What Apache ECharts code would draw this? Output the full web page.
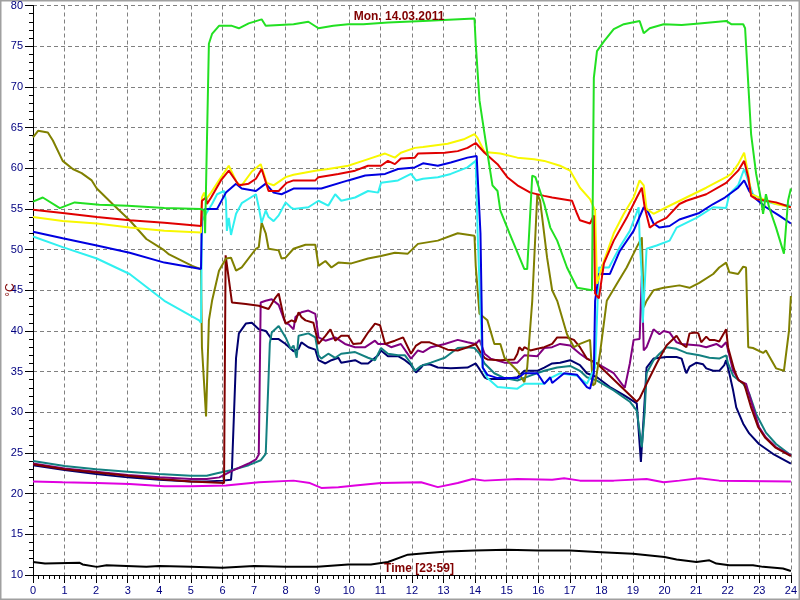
<!DOCTYPE html>
<html>
<head>
<meta charset="utf-8">
<script src="https://cdn.jsdelivr.net/npm/echarts@6/dist/echarts.min.js"></script>
<style>html,body{margin:0;padding:0;background:#fff}#c{width:800px;height:600px}</style>
</head>
<body>
<div id="c"></div>
<script>
// ---- data: [hour, °C] ----
const hours = [0,1,2,3,4,5,6,7,8,9,10,11,12,13,14,15,16,17,18,19,20,21,22,23,24];
const yTicks = [10,15,20,25,30,35,40,45,50,55,60,65,70,75,80];

const green = [[0,55.9],[0.31,56.4],[0.85,55.1],[1.32,55.8],[2.1,55.5],[3,55.4],[4.16,55.1],[5.32,55.0],[5.42,54.8],[5.45,52],[5.5,52.2],[5.57,75.3],[5.67,76.5],[5.89,77.5],[6.3,77.5],[6.52,77.2],[6.83,77.8],[7.24,78.3],[7.37,77.5],[8.25,77.7],[8.72,78],[9.04,77.2],[9.51,77.5],[9.98,77.7],[10.46,77.7],[11.24,77.9],[12.35,78.1],[13.98,78.4],[14.02,75.3],[14.14,68.3],[14.3,64.2],[14.46,60.1],[14.55,57.9],[14.71,57.2],[14.8,54.8],[15.09,52],[15.56,47.6],[15.65,47.6],[15.81,59.1],[15.91,58.9],[16.19,55.6],[16.38,52.7],[16.6,51.1],[16.91,47.8],[17.23,45.3],[17.7,45],[17.76,71.1],[17.86,74.4],[18.08,75.6],[18.39,77.1],[18.71,77.7],[19.21,78.1],[19.34,76.6],[19.53,77.2],[19.97,77.7],[20.54,77.6],[21.1,77.8],[21.95,78.1],[22.11,77.7],[22.49,77.7],[22.55,77.2],[22.65,70.4],[22.74,64.2],[22.9,59.3],[23.06,56],[23.12,54.4],[23.21,56.8],[23.31,55.2],[23.53,52.7],[23.78,49.5],[23.91,56],[24,57.5]];

const red = [[0,54.9],[0.94,54.5],[2.02,54.0],[3.06,53.6],[4.16,53.3],[5.32,52.9],[5.35,56],[5.48,56.4],[5.51,55.6],[5.64,56.4],[5.95,58.5],[6.2,59.7],[6.52,57.9],[6.83,58.1],[7.06,58.7],[7.24,59.9],[7.46,57.2],[7.78,57.2],[8.03,58.2],[8.25,58.5],[8.94,58.5],[9.04,58.9],[9.67,59.3],[10.2,59.7],[10.61,60.3],[11.02,60.3],[11.24,60.9],[11.46,60.5],[11.65,61.2],[12.09,61.3],[12.19,61.8],[13.04,61.9],[13.45,62.1],[13.76,62.5],[14.02,63.1],[14.3,61.9],[14.71,60.5],[15.02,58.9],[15.34,57.9],[15.75,57.0],[16.19,56.6],[16.44,56.4],[17.07,56],[17.23,54.4],[17.32,53.6],[17.64,53.2],[17.76,54.2],[17.8,44.6],[17.92,44.0],[18.08,48.3],[18.39,51.1],[18.8,53.9],[19.12,56.4],[19.28,57.6],[19.37,55.2],[19.53,52.7],[19.75,53.3],[20.06,53.9],[20.47,55.6],[20.69,56],[21.32,56.8],[21.95,58.2],[22.33,59.7],[22.52,60.9],[22.65,58.9],[22.74,56.6],[22.9,56.2],[23.21,56],[23.53,55.8],[24,55.2]];

const yellow = [[0,54.0],[0.94,53.5],[2.02,53.2],[3.06,52.7],[4.16,52.3],[5.32,52.1],[5.35,56.4],[5.42,57],[5.48,56.2],[5.64,57],[5.89,58.5],[6.2,60.3],[6.46,58.2],[6.61,57.9],[6.93,59.6],[7.21,60.5],[7.4,58.2],[7.62,57.9],[8.0,58.9],[8.25,59.2],[8.94,59.7],[9.35,59.9],[9.98,60.3],[10.52,61],[11.15,61.8],[11.46,61.3],[11.65,61.9],[12.09,62.5],[12.35,62.6],[13.13,63.0],[13.67,63.6],[13.98,64.2],[14.08,63.7],[14.3,62.0],[14.8,61.8],[15.34,61.3],[15.87,61.1],[16.19,60.9],[16.69,60.3],[17.01,59.7],[17.32,57.6],[17.64,56.2],[17.8,54.8],[17.86,45.8],[18.08,48.6],[18.39,52],[18.71,54.4],[19.02,56.4],[19.21,58.5],[19.34,57.9],[19.43,55],[19.65,54.4],[20.06,55.2],[20.69,56.4],[21.32,57.6],[21.95,58.9],[22.11,59.3],[22.33,60.5],[22.52,61.9],[22.65,59.3],[22.74,56.8],[23.12,56.2],[23.53,55.6],[24,55.2]];

const blue = [[0,52.2],[0.94,51.4],[2.02,50.5],[3.06,49.6],[4.16,48.4],[5.32,47.6],[5.35,54.8],[5.48,55],[5.83,55],[6.11,57],[6.43,58.1],[6.61,57.5],[7.06,57.2],[7.37,58.1],[7.62,57],[7.87,56.8],[8.25,57.5],[9.13,57.5],[9.98,58.5],[10.52,59.1],[11.15,59.3],[11.56,59.9],[12.09,60.1],[12.35,60.6],[12.82,60.3],[13.23,60.7],[13.76,61.3],[14.05,61.5],[14.17,52],[14.24,35.5],[14.39,34.6],[14.71,34.2],[15.34,34.2],[15.56,34.8],[15.97,34.8],[16.19,33.5],[16.38,34.3],[16.44,33.6],[16.82,34.8],[17.23,34.6],[17.54,33.1],[17.64,32.9],[17.76,34.8],[17.8,43.7],[17.92,47],[18.27,47],[18.58,49.8],[19.02,52.3],[19.34,55.2],[19.43,55],[19.65,53.2],[19.84,52.7],[20.16,52.9],[20.47,53.7],[21.1,54.5],[21.54,55.6],[21.91,56.4],[22.33,57.6],[22.52,58.5],[22.68,57.2],[22.9,56.2],[23.21,55.2],[23.62,54.2],[24,53.2]];

const cyan = [[0,51.6],[0.94,50.3],[2.02,48.9],[3.06,47.0],[4.16,43.7],[5.26,41.3],[5.32,41.0],[5.35,53.5],[5.48,54.4],[5.67,55.6],[5.83,56.8],[6.05,57.2],[6.11,56],[6.14,52.3],[6.2,53.9],[6.27,51.8],[6.3,52.3],[6.43,54.4],[6.61,55.7],[7.06,56.8],[7.15,55.2],[7.24,53.3],[7.37,54.8],[7.46,54],[7.62,53.5],[7.78,54.2],[8.0,55.8],[8.16,55.2],[8.25,55],[8.72,55.2],[9.04,56],[9.35,55.4],[9.57,56.8],[9.76,56],[10.2,56.4],[10.61,57.2],[10.93,57],[11.02,58.2],[11.56,58.5],[11.97,59.3],[12.13,58.5],[12.35,58.7],[12.82,58.9],[13.23,59.3],[13.76,60.1],[14.02,60.9],[14.08,52],[14.24,35.5],[14.39,34.2],[14.71,33.1],[15.34,32.9],[15.56,33.5],[16.19,33.5],[16.38,34.2],[16.69,34.8],[17.23,34.5],[17.54,33.5],[17.8,35.5],[17.92,47.8],[18.24,47.8],[18.58,50.3],[18.9,52.3],[19.18,55.2],[19.21,51.5],[19.28,46.6],[19.31,41.0],[19.43,50.1],[19.75,50.5],[20.16,51.1],[20.38,52.7],[21.01,53.9],[21.54,55.2],[21.95,55.1],[22.05,56.8],[22.33,57.9],[22.52,59.9],[22.68,58.1],[22.8,56.8],[23.12,56],[23.53,55.6],[24,55.4]];

const olive = [[0,63.8],[0.16,64.6],[0.47,64.4],[0.63,63.4],[0.94,60.9],[1.26,59.9],[1.54,59.4],[1.86,58.5],[2.02,57.5],[2.52,55.6],[3.06,53.6],[3.59,51.3],[4.0,50.3],[4.16,49.9],[4.31,49.4],[5.04,48.0],[5.32,47.6],[5.35,38],[5.48,29.5],[5.57,41.3],[5.67,43.7],[5.89,47.4],[6.11,48.9],[6.27,49],[6.43,47.4],[6.61,47.8],[7.06,50.1],[7.15,50.3],[7.24,53.3],[7.37,52],[7.46,50.1],[7.78,49.9],[7.87,48.9],[8.0,49],[8.25,50.1],[8.31,50.3],[8.63,50.6],[8.94,50.6],[9.04,48.0],[9.26,48.6],[9.45,47.8],[9.67,48.4],[10.08,48.3],[10.61,48.9],[11.02,49.2],[11.46,49.6],[11.87,49.5],[12.19,50.7],[12.82,51.1],[13.45,52],[13.98,51.7],[14.02,48],[14.14,42.1],[14.39,41.3],[14.61,38.4],[14.8,38.4],[14.93,36.7],[15.34,35.1],[15.56,33.7],[15.65,35.5],[15.81,43.7],[15.97,56.8],[16.06,56],[16.28,49],[16.44,45],[16.6,43.7],[16.91,39.6],[17.13,38],[17.32,38.4],[17.64,38.9],[17.73,33.3],[17.8,33.5],[17.95,37.1],[18.17,43.7],[18.49,45.8],[18.8,47.8],[19.12,50.3],[19.28,51.5],[19.34,42.9],[19.43,43.7],[19.65,45],[19.97,45.3],[20.47,45.6],[20.79,45.3],[21.1,45.9],[21.54,47],[21.73,47.8],[21.95,48.4],[22.05,47.2],[22.33,47],[22.49,47.9],[22.58,47.8],[22.65,38],[22.8,37.9],[23.12,37.3],[23.21,37.6],[23.53,35.4],[23.78,35.1],[23.94,40],[24,44.3]];

const maroon = [[0,23.6],[1,23.0],[2,22.6],[3,22.2],[4,21.8],[5,21.5],[6.05,21.3],[6.1,49.3],[6.3,43.5],[6.74,43.3],[7.15,43.1],[7.46,42.7],[7.68,44.1],[7.78,44.6],[7.94,41.7],[8.0,40.9],[8.19,41.3],[8.31,41.1],[8.41,42.3],[8.5,41.7],[8.63,41.3],[8.88,41.0],[9.04,38.4],[9.26,39.4],[9.42,40.2],[9.57,38.8],[9.76,39.4],[9.98,39.4],[10.14,38.4],[10.39,38.5],[10.61,39.8],[10.83,40.9],[10.99,40.7],[11.15,38.4],[11.46,38.8],[11.72,39.2],[11.97,37.2],[12.13,38.2],[12.29,38.6],[12.35,38.4],[12.56,38.6],[12.82,38.2],[13.13,37.7],[13.45,37.6],[13.76,38],[14.02,38.4],[14.14,37.6],[14.3,36.7],[14.39,36.5],[14.8,36.4],[15.24,36.5],[15.34,37.2],[15.4,38],[15.5,37.6],[15.56,38],[15.75,37.6],[15.97,37.8],[16.19,38],[16.44,38.4],[16.6,39.2],[16.91,39.2],[17.13,38.9],[17.32,38],[17.54,36.6],[17.86,36],[19.12,31.3],[19.21,31.7],[19.43,33.5],[19.75,36],[20.06,38.2],[20.38,39.4],[20.54,38.4],[20.69,38],[20.79,39.7],[21.0,39.8],[21.07,39.7],[21.16,38.6],[21.32,39.3],[21.42,38.9],[21.57,38.9],[21.73,38.7],[21.95,40.2],[22.01,38],[22.2,35.3],[22.33,34.0],[22.52,33.5],[22.74,30.6],[22.96,28.2],[23.18,26.9],[23.5,25.7],[24,24.6]];

const purple = [[0,23.7],[1,23.1],[2,22.7],[3,22.3],[4,22.0],[5,21.8],[5.5,21.8],[5.9,22.0],[6.3,22.8],[6.83,23.7],[7.06,24.2],[7.15,24.8],[7.21,43.5],[7.37,43.7],[7.56,43.9],[7.78,43.2],[7.94,41.5],[8.0,41.0],[8.1,40.8],[8.25,40.2],[8.31,41.7],[8.5,42.3],[8.72,42.5],[8.94,42.1],[9.04,39.2],[9.26,38.8],[9.57,39.2],[9.88,38.4],[10.2,38],[10.52,38],[10.83,38.8],[10.93,38.4],[11.15,38.4],[11.34,38],[11.65,38.4],[11.97,36.6],[12.19,37.6],[12.35,37.4],[12.6,38],[13.04,38.4],[13.45,38.9],[13.76,38.6],[14.02,38.4],[14.14,38.9],[14.3,37.2],[14.49,36.6],[14.93,36.1],[15.34,36.1],[15.56,37.0],[15.97,36.9],[16.19,37.9],[16.44,38],[16.69,38.4],[17.01,38.2],[17.32,37.2],[17.54,36.6],[17.86,36],[18.39,34.8],[18.74,33],[18.9,36],[19.02,38.9],[19.21,39],[19.28,46.8],[19.34,37.6],[19.43,38],[19.65,40.2],[19.84,39.6],[19.97,40],[20.16,39.8],[20.38,38.6],[20.54,38.4],[21.1,38.2],[21.32,38],[21.64,38.4],[21.8,38],[21.95,38.6],[22.01,38.4],[22.17,35.1],[22.36,33.9],[22.58,33.5],[22.8,30.6],[22.99,28.2],[23.21,26.9],[23.53,25.7],[24,24.7]];

const teal = [[0,24.0],[1,23.4],[2,23.0],[3,22.7],[4,22.4],[5,22.2],[5.5,22.2],[5.83,22.5],[6.3,22.9],[6.83,23.5],[7.21,24.1],[7.37,24.9],[7.5,38.5],[7.56,39.8],[7.78,40.6],[8.0,39.2],[8.16,37.8],[8.25,38.2],[8.35,36.7],[8.41,39.4],[8.72,39.7],[8.94,39.2],[9.04,37],[9.13,36.6],[9.35,37.2],[9.57,36.7],[9.76,37.2],[10.2,37.4],[10.61,36.7],[10.83,36.4],[10.93,37.2],[11.02,37.9],[11.24,37.2],[11.56,37],[11.78,37],[11.97,36],[12.09,35.1],[12.29,35.7],[12.35,35.5],[12.6,36.1],[13.04,36.7],[13.45,37.9],[13.76,38],[13.98,37.9],[14.14,37.2],[14.3,36.0],[14.61,34.8],[14.93,34.2],[15.34,33.9],[15.75,34.5],[16.19,35.1],[16.6,35.5],[17.01,35.7],[17.32,35.1],[17.54,34.3],[17.86,33.9],[18.39,32.7],[18.9,31.3],[19.12,30.2],[19.28,25.7],[19.37,30],[19.43,34.8],[19.65,36.4],[19.84,37.2],[20.06,38],[20.38,37.8],[20.69,37.3],[21.1,37],[21.42,36.7],[21.73,36.6],[21.95,37],[22.01,36],[22.17,34.5],[22.49,33.5],[22.68,32.3],[22.9,29.8],[23.21,27.5],[23.53,26.1],[24,24.7]];

const navy = [[0,23.5],[1,22.9],[2,22.4],[3,22.0],[4,21.7],[5,21.5],[5.5,21.5],[6.0,21.6],[6.27,21.7],[6.3,23],[6.43,36.7],[6.52,39.7],[6.74,40.9],[6.93,41],[7.15,40.2],[7.37,40],[7.56,39],[7.78,39],[8.0,38.4],[8.25,37.5],[8.41,37.8],[8.5,38.6],[8.72,38.0],[8.94,37.7],[9.04,36.4],[9.26,36.0],[9.45,36.4],[9.67,36.7],[9.76,36.1],[10.2,36.4],[10.39,36],[10.61,36],[10.93,37],[11.02,37.6],[11.24,36.9],[11.56,36.9],[11.78,36.4],[11.97,35.8],[12.13,34.9],[12.29,35.5],[12.35,35.8],[12.56,35.9],[12.82,35.5],[13.23,35.4],[13.76,35.5],[14.02,36.0],[14.14,35.3],[14.3,34.3],[14.39,34.1],[14.93,34.1],[15.34,34.3],[15.56,35.1],[15.97,35.1],[16.19,35.5],[16.44,36.0],[16.69,36.1],[17.01,36.4],[17.32,35.8],[17.54,34.8],[17.86,34.3],[18.27,33.1],[18.71,32.1],[19.12,31.1],[19.25,23.9],[19.34,29.5],[19.43,35.5],[19.65,36.6],[20.06,36.8],[20.38,36.8],[20.54,36.6],[20.65,35.2],[20.69,34.8],[20.79,35.6],[21.01,36.1],[21.22,35.9],[21.32,35.4],[21.54,35.1],[21.73,35.1],[21.89,35.8],[21.95,36.4],[22.05,34.8],[22.17,32.7],[22.27,30.6],[22.49,28.6],[22.68,27.4],[22.99,26.1],[23.43,24.9],[24,23.7]];

const magenta = [[0,21.5],[0.94,21.4],[2.02,21.3],[3.06,21.2],[4.16,20.9],[5,20.9],[6.11,21.0],[7.15,21.4],[8.25,21.6],[8.77,21.3],[9.13,20.7],[9.67,20.8],[10.2,21],[11.02,21.3],[12.29,21.4],[12.82,20.8],[13.45,21.3],[13.92,21.8],[14.3,21.6],[15.34,21.8],[16.44,21.7],[16.82,21.9],[17.32,21.6],[18.39,21.6],[19.43,21.8],[19.97,21.4],[20.47,21.6],[21.1,21.9],[21.73,21.6],[24,21.5]];

const black = [[0,11.6],[0.38,11.4],[1.48,11.5],[1.57,11.3],[2.02,11.0],[2.33,11.2],[2.96,11.1],[3.59,11.0],[4.0,11.1],[5,11.0],[6,10.9],[7,11.1],[8,11.0],[9,11.0],[9.98,11.3],[10.7,11.3],[11.24,11.6],[11.87,12.5],[12.5,12.7],[13.13,12.9],[14,13.0],[15,13.1],[16,13.0],[17,13.0],[18,12.8],[19,12.6],[20,12.2],[20.38,11.9],[21.01,11.6],[21.42,11.8],[21.64,11.4],[22.05,11.2],[22.8,11.2],[23.12,11.0],[23.75,10.8],[24,10.5]];

const titleText = 'Mon. 14.03.2011';
const timeText = 'Time [23:59]';
const unitText = '°C';

// ---- chart ----
const seriesDefs = [
  ['black', black, '#000000'],
  ['magenta', magenta, '#e000e0'],
  ['navy', navy, '#000070'],
  ['teal', teal, '#138080'],
  ['purple', purple, '#800080'],
  ['maroon', maroon, '#800000'],
  ['olive', olive, '#808000'],
  ['cyan', cyan, '#30f0f0'],
  ['blue', blue, '#0000e0'],
  ['yellow', yellow, '#f8f800'],
  ['red', red, '#e00000'],
  ['green', green, '#22e022']
];

const gridColors = hours.map((h, i) => i === hours.length - 1 ? '#008000' : '#808080');
const labelFont = {color: '#000080', fontSize: 11, fontFamily: 'Liberation Sans, Arial, sans-serif'};

const chart = echarts.init(document.getElementById('c'), null, {renderer: 'canvas'});
chart.setOption({
  animation: false,
  backgroundColor: '#ffffff',
  grid: {left: 33, right: 5, top: 4.5, bottom: 25, containLabel: false},
  xAxis: {
    type: 'value', min: hours[0], max: hours[hours.length - 1], interval: 1,
    axisLine: {show: true, onZero: false, lineStyle: {color: '#000', width: 1}},
    axisTick: {show: true, length: 8, lineStyle: {color: '#000'}},
    minorTick: {show: true, splitNumber: 6, length: 4, lineStyle: {color: '#000'}},
    axisLabel: Object.assign({margin: 10}, labelFont),
    splitLine: {show: true, showMinLine: false, lineStyle: {color: gridColors, type: [4, 3], width: 1}}
  },
  yAxis: {
    type: 'value', min: yTicks[0], max: yTicks[yTicks.length - 1], interval: 5,
    axisLine: {show: true, onZero: false, lineStyle: {color: '#000', width: 1}},
    axisTick: {show: true, length: 8, lineStyle: {color: '#000'}},
    minorTick: {show: true, splitNumber: 5, length: 4, lineStyle: {color: '#000'}},
    axisLabel: Object.assign({margin: 10}, labelFont),
    splitLine: {show: true, showMinLine: false, lineStyle: {color: '#808080', type: [4, 3], width: 1}}
  },
  series: seriesDefs.map(([name, data, color]) => ({
    name, type: 'line', data, showSymbol: false, symbol: 'none',
    lineStyle: {color, width: 2}, itemStyle: {color}, z: 3
  })),
  graphic: [
    {type: 'rect', shape: {x: 0.5, y: 0.5, width: 799, height: 599}, style: {fill: null, stroke: '#a0a0a0', lineWidth: 2}, silent: true},
    {type: 'text', x: 399, y: 17, style: {text: titleText, fill: '#800000', font: 'bold 12px Liberation Sans, Arial, sans-serif', textAlign: 'center', textVerticalAlign: 'middle'}, z: 100},
    {type: 'text', x: 419, y: 569, style: {text: timeText, fill: '#800000', font: 'bold 12px Liberation Sans, Arial, sans-serif', textAlign: 'center', textVerticalAlign: 'middle'}, z: 100},
    {type: 'text', x: 11, y: 290, rotation: Math.PI / 2, style: {text: unitText, fill: '#800000', font: '12px Liberation Sans, Arial, sans-serif', textAlign: 'center', textVerticalAlign: 'middle'}, z: 100}
  ]
});
</script>
</body>
</html>
